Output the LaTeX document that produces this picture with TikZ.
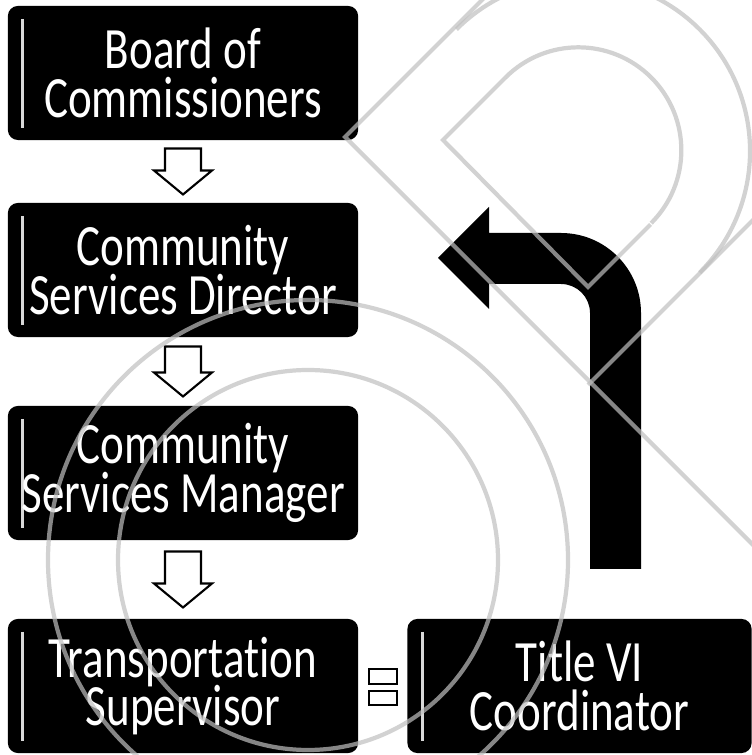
\documentclass[tikz,border=0pt]{standalone}
\usepackage{fontspec}
\setmainfont{Carlito}[Ligatures=NoCommon]
\usepackage{graphicx}
\usetikzlibrary{calc}
% two centred lines, stretched upwards like the scanned chart
\newcommand\twolines[2]{\scalebox{1}[1.3]{\vbox{\baselineskip=10.6pt\lineskiplimit=-20pt
  \halign{\hfil##\hfil\cr#1\cr#2\cr}}}}
\tikzset{
  post/.style={fill=black,text=white,rounded corners=0.1cm,inner sep=0pt,
    minimum width=3.5cm,minimum height=1.34cm,font=\fontsize{12.8}{10.6}\selectfont,
    path picture={\draw[white!85!black,line width=0.9pt]
      ([xshift=0.15cm,yshift=-0.13cm]path picture bounding box.north west) --
      ([xshift=0.15cm,yshift=0.12cm]path picture bounding box.south west);}},
  % hollow block arrow pointing down
  pics/downarrow/.style={code={
    \pgfmathsetmacro\half{#1/2}
    \pgfmathsetmacro\neck{-#1/2+24}
    \draw[line width=0.6pt,fill=white] (-18,\half) -- (18,\half) -- (18,\neck) -- (29,\neck)
      -- (0,-\half) -- (-29,\neck) -- (-18,\neck) -- cycle;
  }},
  wmline/.style={draw=black!25,line width=1.2pt,opacity=0.7},
}
\begin{document}
\begin{tikzpicture}[x=0.01cm,y=0.01cm]
  \useasboundingbox (0,0) rectangle (752,755);
  \node[post] (board) at (183,682) {\twolines{Board of}{Commissioners}};
  \node[post] (director) at (183,485) {\twolines{Community}{Services Director}};
  \node[post] (manager) at (183,282) {\twolines{Community}{Services Manager}};
  \node[post] (supervisor) at (183,69) {\twolines{Transportation}{Supervisor}};
  \node[post,minimum width=3.44cm] (coord) at (579.5,69) {\twolines{Title VI}{Coordinator}};
  \pic at ($(board.south)!0.5!(director.north)$) {downarrow=46};
  \pic at ($(director.south)!0.5!(manager.north)$) {downarrow=50};
  \pic at ($(manager.south)!0.5!(supervisor.north)$) {downarrow=56};
  % equals sign between the two posts
  \coordinate (eq) at ($(supervisor.east)!0.5!(coord.west)$);
  \draw[line width=0.6pt] ($(eq)+(-14,2)$) rectangle ($(eq)+(14,17)$);
  \draw[line width=0.6pt] ($(eq)+(-14,-5)$) rectangle ($(eq)+(14,-19)$);
  % bent arrow up to the director
  \fill (590,186) -- (641,186) -- (641,442) arc[start angle=0,end angle=90,radius=80]
    -- (489,522) -- (489,548) -- (438,497) -- (489,446) -- (489,471) -- (561,471)
    arc[start angle=90,end angle=0,radius=29] -- cycle;
  % faint watermark of the scan
  \begin{scope}
    \clip (0,0) rectangle (752,755);
    \draw[wmline] (308,195) circle[radius=260];
    \draw[wmline] (308,195) circle[radius=190];
    \draw[wmline] (505.5,677.5) -- (443,615) -- (588,468) -- (650.5,530.5);
    \draw[wmline] (505.5,677.5) arc[start angle=135,end angle=-45,radius=103];
    \draw[wmline] (485,758) -- (345,618) -- (760,203);
    \draw[wmline] (456.4,725.6) arc[start angle=135,end angle=-45,radius=172];
    \draw[wmline] (588,370) -- (760,542);
  \end{scope}
\end{tikzpicture}
\end{document}
